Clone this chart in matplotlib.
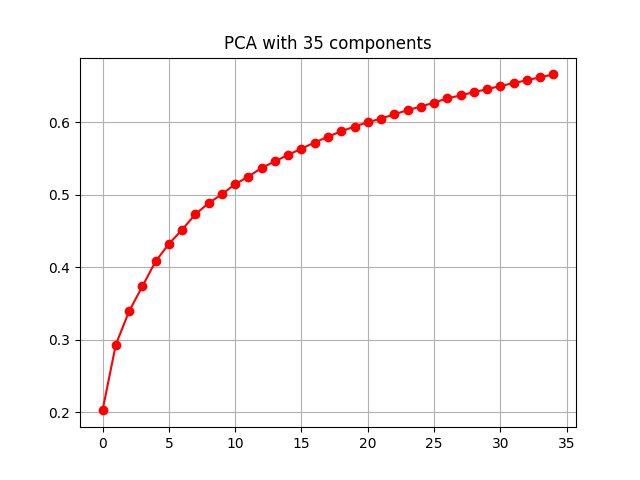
import matplotlib
matplotlib.use("Agg")
import matplotlib.pyplot as plt
import numpy as np

components = list(range(35))
explained = [0.2023, 0.293, 0.339, 0.3734, 0.408, 0.432, 0.4517, 0.473, 0.4883, 0.5007,
             0.5145, 0.525, 0.537, 0.546, 0.555, 0.5636, 0.572, 0.580, 0.5876, 0.594,
             0.600, 0.605, 0.611, 0.6166, 0.6217, 0.627, 0.633, 0.637, 0.6415, 0.6456,
             0.650, 0.654, 0.658, 0.662, 0.666]

fig, ax = plt.subplots(figsize=(6.4, 4.8), dpi=100)
ax.plot(components, explained, 'ro-')
ax.set_title("PCA with 35 components")
ax.grid(True)
fig.savefig("out.png")
